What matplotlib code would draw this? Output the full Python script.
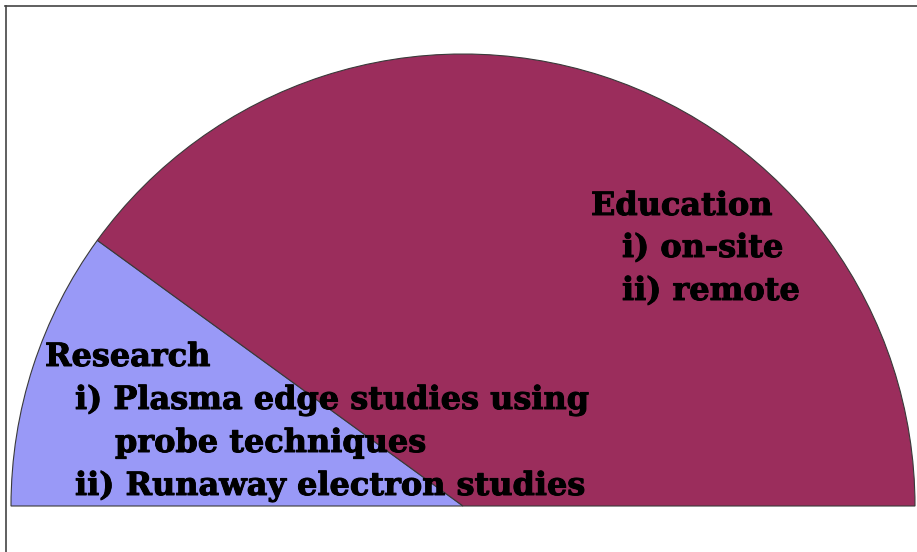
import matplotlib
matplotlib.use("Agg")
import matplotlib.pyplot as plt
import matplotlib.patheffects as pe
from matplotlib.lines import Line2D

W, H = 917, 552

# share of the half-disc (percent)
categories = ["Research", "Education"]
shares = [20, 80]
colors = ["#9999f7", "#9b2d5c"]

research_lines = ["Research",
                  "i) Plasma edge studies using",
                  "probe techniques",
                  "ii) Runaway electron studies"]
education_lines = ["Education", "i) on-site", "ii) remote"]

fig = plt.figure(figsize=(W / 100, H / 100), dpi=100)
ax = fig.add_axes([0, 0, 1, 1])

# half pie: add an invisible wedge equal to the visible total
vals = shares + [sum(shares)]
wedges, _ = ax.pie(vals, colors=colors + ["white"], startangle=180,
                   counterclock=False, radius=452, center=(463, H - 506),
                   wedgeprops=dict(edgecolor="#3a3a3a", linewidth=0.8),
                   frame=False)
wedges[-1].set_visible(False)

ax.set_xlim(0, W)
ax.set_ylim(0, H)
ax.set_aspect("auto")
ax.axis("off")

font = dict(family="DejaVu Serif", fontweight="bold", fontsize=23,
            color="black", va="baseline", ha="left",
            path_effects=[pe.withStroke(linewidth=0.7, foreground="black")])

# (x, baseline from top) for each line
res_pos = [(45, 366), (75, 409), (115, 452), (75, 495)]
for txt, (x, y) in zip(research_lines, res_pos):
    ax.text(x, H - y, txt, **font)

edu_pos = [(591, 215), (622, 257), (622, 300)]
for txt, (x, y) in zip(education_lines, edu_pos):
    ax.text(x, H - y, txt, **font)

# slide frame (left and top edges)
fig.add_artist(Line2D([5.5 / W, 5.5 / W], [0, 1 - 6 / H], transform=fig.transFigure,
                      color="#444444", linewidth=1.2))
fig.add_artist(Line2D([5 / W, 1], [1 - 6 / H, 1 - 6 / H], transform=fig.transFigure,
                      color="#444444", linewidth=1.2))

fig.savefig("out.png", dpi=100)
